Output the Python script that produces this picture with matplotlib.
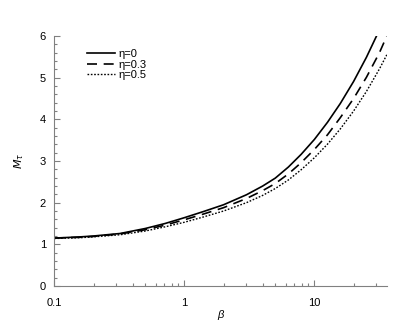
import matplotlib
matplotlib.use("Agg")
import matplotlib.pyplot as plt
from matplotlib.ticker import LogLocator, FixedLocator, FixedFormatter, MultipleLocator, NullFormatter

plt.rcParams['font.family'] = ['Liberation Sans', 'DejaVu Sans']

beta_0 = [0.1, 0.16, 0.2, 0.32, 0.5, 0.71, 1, 1.41, 2, 3, 4, 5, 6.3, 7.9, 10, 12.6, 15.8, 20, 25.1, 30]
M_0 = [1.15, 1.18, 1.20, 1.26, 1.38, 1.50, 1.64, 1.79, 1.95, 2.19, 2.40, 2.59, 2.855, 3.16, 3.52, 3.93, 4.38, 4.91, 5.49, 6.0]

beta_3 = [0.1, 0.16, 0.2, 0.32, 0.5, 0.71, 1, 1.41, 2, 3, 4, 5, 6.3, 7.9, 10, 12.6, 15.8, 20, 25.1, 31.6, 36]
M_3 = [1.15, 1.17, 1.19, 1.25, 1.35, 1.46, 1.59, 1.73, 1.88, 2.10, 2.29, 2.46, 2.69, 2.96, 3.28, 3.63, 4.04, 4.50, 5.01, 5.60, 6.0]

beta_5 = [0.1, 0.16, 0.2, 0.32, 0.5, 0.71, 1, 1.41, 2, 3, 4, 5, 6.3, 7.9, 10, 12.6, 15.8, 20, 25.1, 31.6, 36]
M_5 = [1.14, 1.16, 1.18, 1.23, 1.32, 1.42, 1.53, 1.66, 1.80, 2.00, 2.175, 2.34, 2.545, 2.79, 3.08, 3.405, 3.77, 4.20, 4.67, 5.21, 5.55]

labels = ['η=0', 'η=0.3', 'η=0.5']

fig = plt.figure(figsize=(4.15, 3.31), dpi=100)
ax = fig.add_axes([0.131, 0.136, 0.801, 0.755])

ax.plot(beta_0, M_0, color='black', lw=1.2, ls='-', label=labels[0])
ax.plot(beta_3, M_3, color='black', lw=1.2, ls=(0, (6, 4)), label=labels[1])
ax.plot(beta_5, M_5, color='black', lw=1.0, ls=(0, (1.2, 1.2)), label=labels[2])

ax.set_xscale('log')
ax.set_xlim(0.1, 36)
ax.set_ylim(0, 6)

for s in ['top', 'right']:
    ax.spines[s].set_visible(False)
for s in ['left', 'bottom']:
    ax.spines[s].set_color('#808080')
    ax.spines[s].set_linewidth(0.8)

ax.xaxis.set_major_locator(FixedLocator([0.1, 1, 10]))
ax.xaxis.set_major_formatter(FixedFormatter(['0.1', '1', '10']))
ax.xaxis.set_minor_locator(LogLocator(base=10, subs=range(2, 10)))
ax.xaxis.set_minor_formatter(NullFormatter())
ax.yaxis.set_major_locator(MultipleLocator(1))
ax.yaxis.set_minor_locator(MultipleLocator(0.2))

ax.tick_params(which='both', direction='in', colors='#808080', labelcolor='black', labelsize=8, width=0.8)
ax.tick_params(axis='x', which='major', length=4, pad=9)
ax.tick_params(axis='y', which='major', length=4, pad=6)
ax.tick_params(which='minor', length=2.5)

ax.set_xlabel('β', fontstyle='italic', fontsize=8, labelpad=1)
ax.set_ylabel(r'$M_\tau$', fontsize=8, labelpad=10)

leg = ax.legend(loc='upper left', bbox_to_anchor=(0.085, 0.965), frameon=False, fontsize=8,
                handlelength=2.5, handletextpad=0.3, labelspacing=0.05, borderaxespad=0)

fig.savefig('out.png', dpi=100)
